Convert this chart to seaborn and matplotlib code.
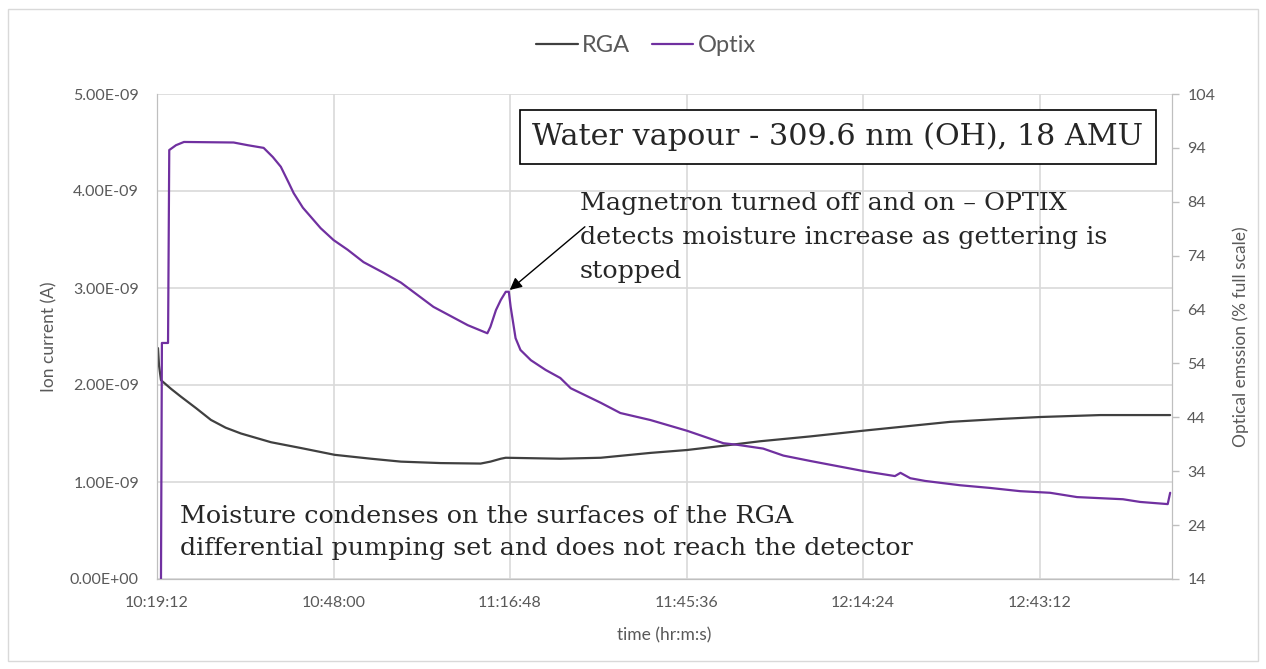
import matplotlib
matplotlib.use("Agg")
import matplotlib.pyplot as plt
from matplotlib.lines import Line2D
from matplotlib.patches import Rectangle
import pandas as pd
import seaborn as sns

# -------------------------------------------------------------------------
# Data (time in minutes after 10:19:12)
# -------------------------------------------------------------------------
RGA_MIN = [0.16, 0.33, 0.65, 2.3, 3.9, 6.4, 8.8, 11.2, 13.7, 18.6, 23.5, 29.0,
           34.9, 39.8, 46.3, 52.8, 54.4, 56.1, 56.9, 65.8, 72.4, 80.5, 86.5,
           91.9, 98.4, 106.6, 115.4, 129.4, 137.6, 144.1, 153.9, 165.3]
RGA_AMP = [2.38e-9, 2.20e-9, 2.05e-9, 1.96e-9, 1.88e-9, 1.76e-9, 1.64e-9,
           1.56e-9, 1.50e-9, 1.41e-9, 1.35e-9, 1.28e-9, 1.24e-9, 1.21e-9,
           1.195e-9, 1.19e-9, 1.21e-9, 1.24e-9, 1.25e-9, 1.24e-9, 1.25e-9,
           1.30e-9, 1.33e-9, 1.37e-9, 1.42e-9, 1.47e-9, 1.53e-9, 1.62e-9,
           1.65e-9, 1.67e-9, 1.69e-9, 1.69e-9]

OPTIX_MIN = [0.65, 0.8, 1.8, 2.0, 3.1, 4.4, 12.5, 14.8, 17.4, 18.9, 20.2, 21.5,
             22.3, 23.8, 25.1, 26.7, 28.8, 31.1, 33.7, 37.0, 39.8, 45.1, 50.7,
             53.9, 54.4, 55.3, 56.1, 56.9, 57.4, 57.7, 58.5, 59.3, 61.0, 63.4,
             65.8, 67.5, 72.4, 75.6, 80.5, 86.5, 92.4, 94.7, 98.9, 102.2,
             106.6, 115.4, 120.4, 121.3, 122.9, 125.3, 131.0, 135.9, 140.8,
             145.7, 150.1, 157.6, 160.4, 164.9, 165.3]
OPTIX_PCT = [14.0, 57.8, 57.8, 93.6, 94.5, 95.1, 95.0, 94.5, 94.0, 92.3, 90.5,
             87.5, 85.6, 82.9, 81.2, 79.1, 76.9, 75.1, 72.8, 70.8, 69.0, 64.5,
             61.1, 59.6, 60.8, 63.9, 65.8, 67.3, 67.3, 64.5, 58.7, 56.5, 54.6,
             52.8, 51.3, 49.4, 46.7, 44.8, 43.5, 41.5, 39.2, 38.9, 38.2, 36.9,
             35.9, 34.0, 33.1, 33.7, 32.7, 32.2, 31.4, 30.9, 30.3, 30.0, 29.2,
             28.8, 28.3, 27.9, 30.0]

X_TICKS = [0, 28.8, 57.6, 86.4, 115.2, 144.0]
X_LABELS = ["10:19:12", "10:48:00", "11:16:48", "11:45:36", "12:14:24", "12:43:12"]
LEFT_TICKS = [0, 1e-9, 2e-9, 3e-9, 4e-9, 5e-9]
LEFT_LABELS = ["0.00E+00", "1.00E-09", "2.00E-09", "3.00E-09", "4.00E-09", "5.00E-09"]
RIGHT_TICKS = [14, 24, 34, 44, 54, 64, 74, 84, 94, 104]

RGA_COLOR = "#404040"
OPTIX_COLOR = "#7030a0"
TEXT_GRAY = "#595959"
GRID = "#d9d9d9"

sns.set_style("white")
plt.rcParams["font.family"] = ["Lato", "DejaVu Sans"]

rga = pd.DataFrame({"t": RGA_MIN, "current": RGA_AMP})
optix = pd.DataFrame({"t": OPTIX_MIN, "emission": OPTIX_PCT})

fig = plt.figure(figsize=(12.66, 6.69), dpi=100)
ax = fig.add_axes([157 / 1266, 1 - 579 / 669, (1172 - 157) / 1266, (579 - 94) / 669])
ax2 = ax.twinx()

sns.lineplot(data=rga, x="t", y="current", ax=ax, color=RGA_COLOR, linewidth=1.6)
sns.lineplot(data=optix, x="t", y="emission", ax=ax2, color=OPTIX_COLOR, linewidth=1.6)

ax.set_xlim(0, 165.6)
ax.set_ylim(0, 5e-9)
ax2.set_ylim(14, 104)
ax.set_xticks(X_TICKS)
ax.set_xticklabels(X_LABELS)
ax.set_yticks(LEFT_TICKS)
ax.set_yticklabels(LEFT_LABELS)
ax2.set_yticks(RIGHT_TICKS)
ax.grid(True, color=GRID, linewidth=1.2)
ax.set_axisbelow(True)

for a in (ax, ax2):
    a.spines["top"].set_visible(False)
    for side in ("left", "right", "bottom"):
        a.spines[side].set_color("#bfbfbf")
ax.tick_params(axis="y", colors=TEXT_GRAY, labelsize=11.5, length=0, pad=13)
ax.tick_params(axis="x", colors=TEXT_GRAY, labelsize=11.5, length=0, pad=12)
ax2.tick_params(axis="y", colors=TEXT_GRAY, labelsize=11.5, length=5, width=1,
                color="#bfbfbf", pad=6)

ax.set_xlabel("time (hr:m:s)", color=TEXT_GRAY, fontsize=12.5, labelpad=13)
ax.set_ylabel("Ion current (A)", color=TEXT_GRAY, fontsize=12.5, labelpad=9)
ax2.set_ylabel("Optical emssion (% full scale)", color=TEXT_GRAY, fontsize=12.5,
               labelpad=12)

handles = [Line2D([], [], color=RGA_COLOR, lw=1.6), Line2D([], [], color=OPTIX_COLOR, lw=1.6)]
fig.legend(handles, ["RGA", "Optix"], loc="center", bbox_to_anchor=(646 / 1266, 1 - 46 / 669),
           ncol=2, frameon=False, fontsize=17, labelcolor=TEXT_GRAY,
           handlelength=1.75, handletextpad=0.2, columnspacing=0.9)

# Annotations
serif = ["DejaVu Serif"]
fig.text(838 / 1266, 1 - 137 / 669, "Water vapour - 309.6 nm (OH), 18 AMU",
         ha="center", va="center", fontsize=21.8, family=serif,
         bbox=dict(boxstyle="square,pad=0.42", fc="white", ec="black", lw=1.2))
fig.text(580 / 1266, 1 - 192 / 669,
         "Magnetron turned off and on \u2013 OPTIX\ndetects moisture increase as gettering is\nstopped",
         ha="left", va="top", fontsize=18.3, family=serif, linespacing=1.62)
fig.text(180 / 1266, 1 - 505 / 669,
         "Moisture condenses on the surfaces of the RGA\ndifferential pumping set and does not reach the detector",
         ha="left", va="top", fontsize=18.3, family=serif, linespacing=1.5)
ax2.annotate("", xy=(57.2, 67.3), xycoords="data",
             xytext=(587 / 1266, 1 - 225 / 669), textcoords="figure fraction",
             arrowprops=dict(arrowstyle="-|>", color="black", lw=1, mutation_scale=18))

# Chart border
fig.patches.append(Rectangle((8 / 1266, 8 / 669), 1250 / 1266, 652 / 669,
                             transform=fig.transFigure, fill=False, ec="#d9d9d9", lw=1))

fig.savefig("out.png", dpi=100)
